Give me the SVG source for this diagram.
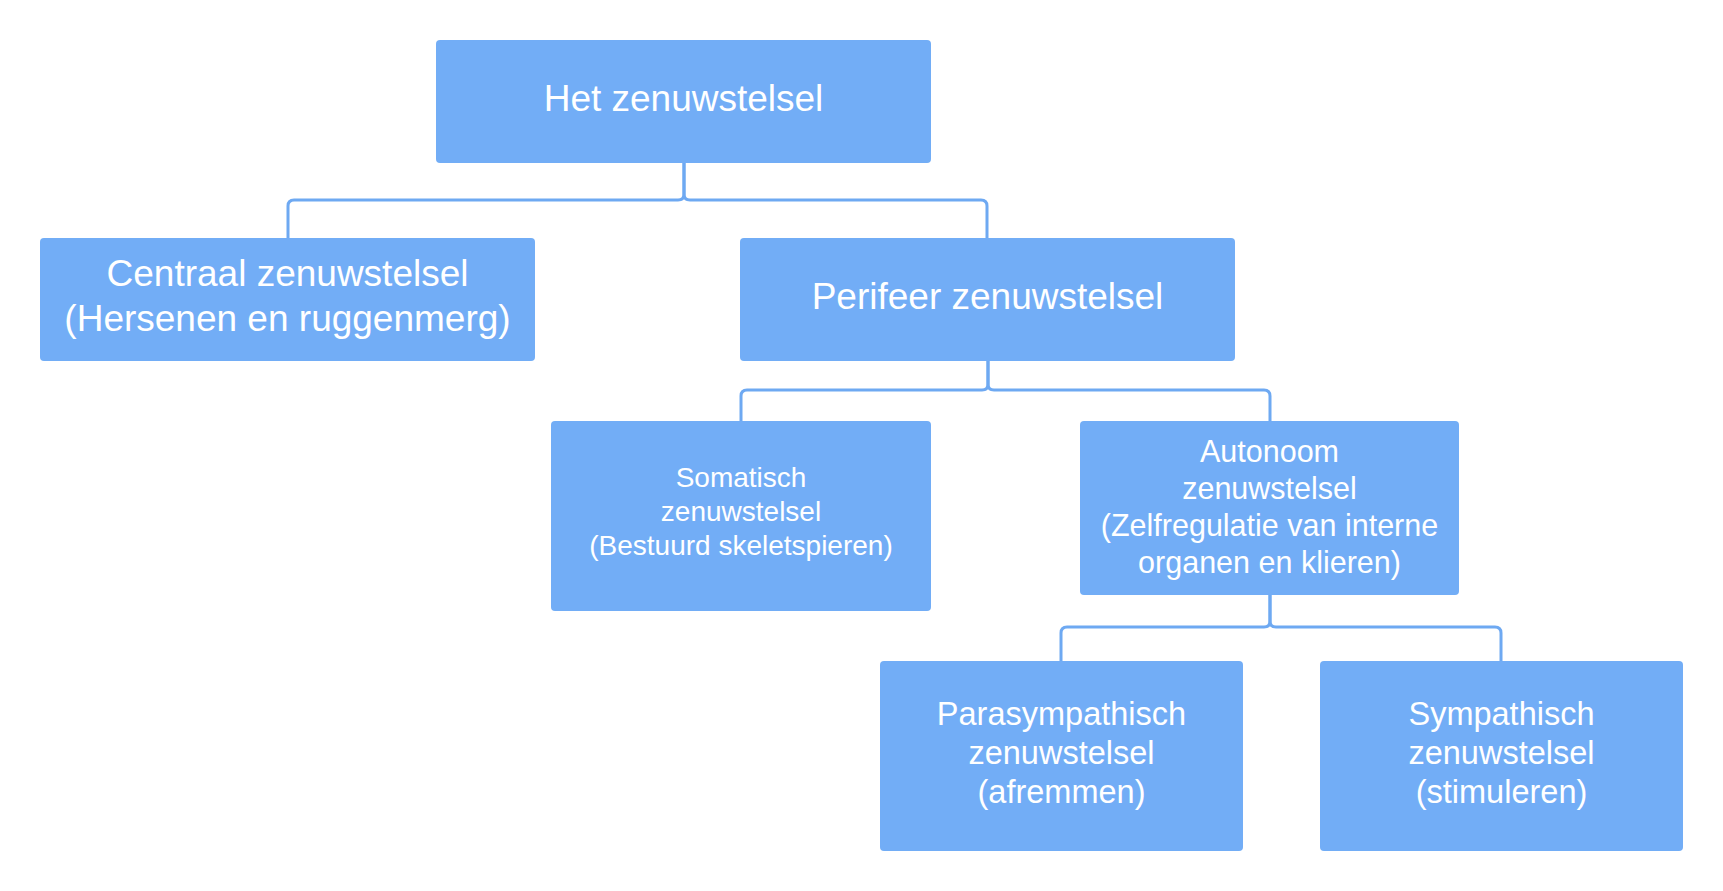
<svg xmlns="http://www.w3.org/2000/svg" width="1723" height="891" viewBox="0 0 1723 891">
<style>
.box{fill:#72adf6;}
.t{fill:#ffffff;font-family:"Liberation Sans",Arial,sans-serif;text-anchor:middle;}
.c{fill:none;stroke:#6ea9f2;stroke-width:3;stroke-linejoin:round;}
</style>
<rect width="1723" height="891" fill="#ffffff"/>
<g id="connectors">
<path class="c" d="M684,163 V194 Q684,200 678,200 H294 Q288,200 288,206 V238"/>
<path class="c" d="M684,163 V194 Q684,200 690,200 H981 Q987,200 987,206 V238"/>
<path class="c" d="M988,360 V384 Q988,390 982,390 H747 Q741,390 741,396 V421"/>
<path class="c" d="M988,360 V384 Q988,390 994,390 H1264 Q1270,390 1270,396 V421"/>
<path class="c" d="M1270,595 V621 Q1270,627 1264,627 H1067 Q1061,627 1061,633 V661"/>
<path class="c" d="M1270,595 V621 Q1270,627 1276,627 H1495 Q1501,627 1501,633 V661"/>
</g>
<g id="n-root">
<rect class="box" x="436" y="40" width="495" height="123" rx="4"/>
<text class="t" x="683.5" y="111" font-size="37">Het zenuwstelsel</text>
</g>
<g id="n-centraal">
<rect class="box" x="40" y="238" width="495" height="123" rx="4"/>
<text class="t" x="287.5" y="286" font-size="37">Centraal zenuwstelsel</text>
<text class="t" x="287.5" y="331" font-size="37">(Hersenen en ruggenmerg)</text>
</g>
<g id="n-perifeer">
<rect class="box" x="740" y="238" width="495" height="123" rx="4"/>
<text class="t" x="987.5" y="309" font-size="37">Perifeer zenuwstelsel</text>
</g>
<g id="n-somatisch">
<rect class="box" x="551" y="421" width="380" height="190" rx="4"/>
<text class="t" x="741" y="487" font-size="28">Somatisch</text>
<text class="t" x="741" y="521" font-size="28">zenuwstelsel</text>
<text class="t" x="741" y="555" font-size="28">(Bestuurd skeletspieren)</text>
</g>
<g id="n-autonoom">
<rect class="box" x="1080" y="421" width="379" height="174" rx="4"/>
<text class="t" x="1269.5" y="462" font-size="30.5">Autonoom</text>
<text class="t" x="1269.5" y="499" font-size="30.5">zenuwstelsel</text>
<text class="t" x="1269.5" y="536" font-size="30.5">(Zelfregulatie van interne</text>
<text class="t" x="1269.5" y="573" font-size="30.5">organen en klieren)</text>
</g>
<g id="n-parasympathisch">
<rect class="box" x="880" y="661" width="363" height="190" rx="4"/>
<text class="t" x="1061.5" y="725" font-size="32.5">Parasympathisch</text>
<text class="t" x="1061.5" y="764" font-size="32.5">zenuwstelsel</text>
<text class="t" x="1061.5" y="803" font-size="32.5">(afremmen)</text>
</g>
<g id="n-sympathisch">
<rect class="box" x="1320" y="661" width="363" height="190" rx="4"/>
<text class="t" x="1501.5" y="725" font-size="32.5">Sympathisch</text>
<text class="t" x="1501.5" y="764" font-size="32.5">zenuwstelsel</text>
<text class="t" x="1501.5" y="803" font-size="32.5">(stimuleren)</text>
</g>
</svg>
